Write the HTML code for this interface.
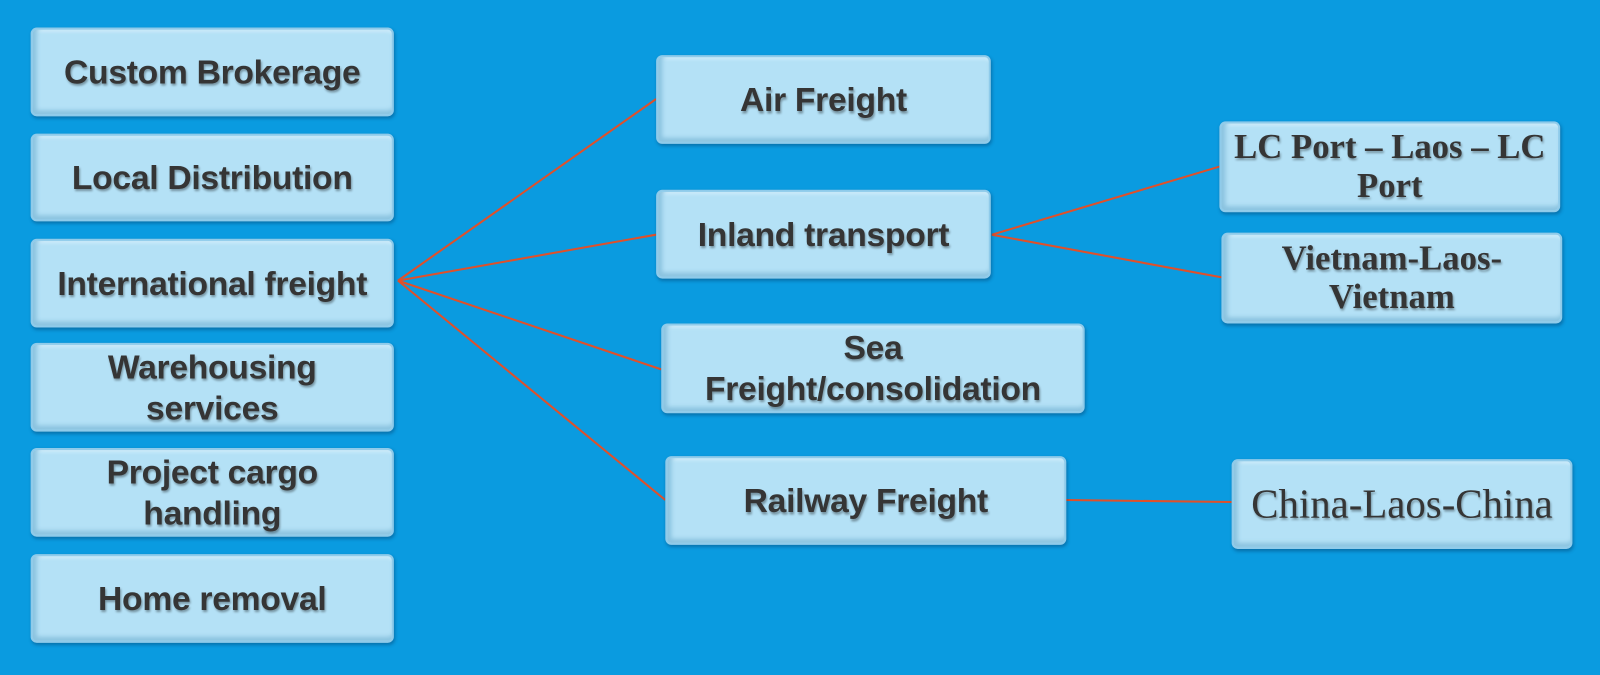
<!DOCTYPE html>
<html><head><style>
body{margin:0;width:1600px;height:674px;background:#0a9be0;position:relative;overflow:hidden;font-family:"Liberation Sans",sans-serif}
#w{position:absolute;left:0;top:0;width:1568px;height:661px;transform:scale(1.0204);transform-origin:0 0}
.b{position:absolute;box-sizing:border-box;background:#b4e1f6;border-radius:6px;border:2px solid #8fcbea;
box-shadow:inset 6px 0 4px -2px #8cc4e0,inset 0 -6px 4px -2px #8cc4e0,inset 0 4px 3px -2px #d4effc,1px 2px 3px rgba(0,40,80,.35);
display:flex;align-items:center;justify-content:center;text-align:center;color:#353535;font-weight:bold;font-size:33px;line-height:40px;letter-spacing:-0.3px;
text-shadow:1px 2px 2px rgba(0,0,0,.35)}
.s{font-family:"Liberation Serif",serif;font-size:34px;line-height:38px;letter-spacing:0}
svg{position:absolute;left:0;top:0}
</style></head><body><div id="w">
<svg width="1568" height="661"><g stroke="#e0502a" stroke-width="2" fill="none">
<line x1="390" y1="275" x2="643" y2="97"/><line x1="390" y1="275" x2="643" y2="230"/>
<line x1="390" y1="275" x2="648" y2="362"/><line x1="390" y1="275" x2="652" y2="490"/>
<line x1="972" y1="230" x2="1196" y2="163"/><line x1="972" y1="230" x2="1198" y2="272"/>
<line x1="1044" y1="490" x2="1207" y2="492"/></g></svg>
<div class="b" style="left:30px;top:27px;width:356px;height:87px">Custom Brokerage</div>
<div class="b" style="left:30px;top:131px;width:356px;height:86px">Local Distribution</div>
<div class="b" style="left:30px;top:234px;width:356px;height:87px">International freight</div>
<div class="b" style="left:30px;top:336px;width:356px;height:87px">Warehousing<br>services</div>
<div class="b" style="left:30px;top:439px;width:356px;height:87px">Project cargo<br>handling</div>
<div class="b" style="left:30px;top:543px;width:356px;height:87px">Home removal</div>
<div class="b" style="left:643px;top:54px;width:328px;height:87px">Air Freight</div>
<div class="b" style="left:643px;top:186px;width:328px;height:87px">Inland transport</div>
<div class="b" style="left:648px;top:317px;width:415px;height:88px">Sea<br>Freight/consolidation</div>
<div class="b" style="left:652px;top:447px;width:393px;height:87px">Railway Freight</div>
<div class="b s" style="left:1195px;top:119px;width:334px;height:89px">LC Port – Laos – LC<br>Port</div>
<div class="b s" style="left:1197px;top:228px;width:334px;height:89px">Vietnam-Laos-<br>Vietnam</div>
<div class="b s" style="left:1207px;top:450px;width:334px;height:88px;font-weight:normal;font-size:40px">China-Laos-China</div>
</div></body></html>
